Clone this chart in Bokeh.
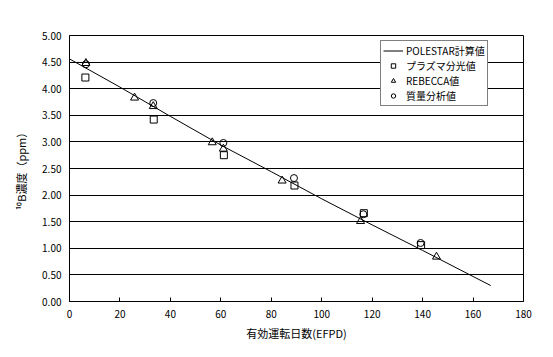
from bokeh.plotting import figure
from bokeh.models import Range1d, FixedTicker, NumeralTickFormatter, Legend, LegendItem
from bokeh.embed import file_html
from bokeh.resources import INLINE

# POLESTAR calculated line
calc_x = [0, 20, 40, 60, 80, 100, 120, 140, 160, 167]
calc_y = [4.56, 4.03, 3.48, 2.94, 2.44, 1.93, 1.44, 0.96, 0.47, 0.30]

# Plasma spectroscopy (squares)
icp_x = [6.3, 33.4, 61.2, 89.2, 116.7, 139.4]
icp_y = [4.21, 3.42, 2.75, 2.18, 1.66, 1.06]

# REBECCA (triangles)
reb_x = [6.5, 25.8, 33.2, 56.6, 61.0, 84.3, 115.4, 145.5]
reb_y = [4.48, 3.83, 3.67, 2.99, 2.87, 2.27, 1.51, 0.84]

# Mass spectrometry (circles)
ms_x = [6.5, 33.2, 61.0, 89.0, 116.5, 139.2]
ms_y = [4.46, 3.73, 2.98, 2.32, 1.64, 1.10]

x_ticks = [0, 20, 40, 60, 80, 100, 120, 140, 160, 180]
y_ticks = [0, 0.5, 1.0, 1.5, 2.0, 2.5, 3.0, 3.5, 4.0, 4.5, 5.0]

FONT = "Noto Sans CJK JP"

p = figure(width=553, height=357, output_backend="svg", toolbar_location=None,
           x_range=Range1d(0, 180), y_range=Range1d(0, 5),
           min_border_left=69, min_border_right=30, min_border_top=35, min_border_bottom=56)

p.background_fill_color = "white"
p.border_fill_color = "white"
p.outline_line_color = "black"
p.outline_line_width = 1

p.xgrid.grid_line_color = None
p.ygrid.grid_line_color = "black"
p.ygrid.grid_line_width = 1

p.xaxis.ticker = FixedTicker(ticks=x_ticks)
p.yaxis.ticker = FixedTicker(ticks=y_ticks)
p.yaxis.formatter = NumeralTickFormatter(format="0.00")

for ax in (p.xaxis[0], p.yaxis[0]):
    ax.axis_line_color = "black"
    ax.minor_tick_line_color = None
    ax.major_label_text_font = FONT
    ax.major_label_text_font_size = "10px"
    ax.major_label_text_color = "black"
    ax.axis_label_text_font = FONT
    ax.axis_label_text_font_size = "11px"
    ax.axis_label_text_font_style = "normal"
    ax.axis_label_text_color = "black"

p.xaxis.major_tick_in = 4
p.xaxis.major_tick_out = 0
p.xaxis.major_tick_line_color = "black"
p.xaxis.major_label_standoff = 8
p.xaxis.axis_label = "有効運転日数(EFPD)"
p.xaxis.axis_label_standoff = 4

p.yaxis.major_tick_in = 0
p.yaxis.major_tick_out = 0
p.yaxis.major_label_standoff = 8
p.yaxis.axis_label = "¹⁰B濃度（ppm）"
p.yaxis.axis_label_standoff = 10

r_line = p.line(calc_x, calc_y, line_color="black", line_width=1)
r_sq = p.scatter(icp_x, icp_y, marker="square", size=7, fill_color=None,
                 line_color="black", line_width=1)
r_tr = p.scatter(reb_x, reb_y, marker="triangle", size=8, fill_color=None,
                 line_color="black", line_width=1)
r_ci = p.scatter(ms_x, ms_y, marker="circle", size=7, fill_color=None,
                 line_color="black", line_width=1)

legend = Legend(items=[
    LegendItem(label="POLESTAR計算値", renderers=[r_line]),
    LegendItem(label="プラズマ分光値", renderers=[r_sq]),
    LegendItem(label="REBECCA値", renderers=[r_tr]),
    LegendItem(label="質量分析値", renderers=[r_ci]),
], location=(311, 195))
legend.label_text_font = FONT
legend.label_text_font_size = "10px"
legend.label_text_color = "black"
legend.border_line_color = "black"
legend.border_line_width = 1
legend.background_fill_color = "white"
legend.background_fill_alpha = 1
legend.glyph_width = 20
legend.glyph_height = 11
legend.label_height = 11
legend.label_standoff = 3
legend.spacing = 0
legend.padding = 2
legend.margin = 0
p.add_layout(legend, "center")

open("out.html", "w").write(file_html(p, INLINE))
